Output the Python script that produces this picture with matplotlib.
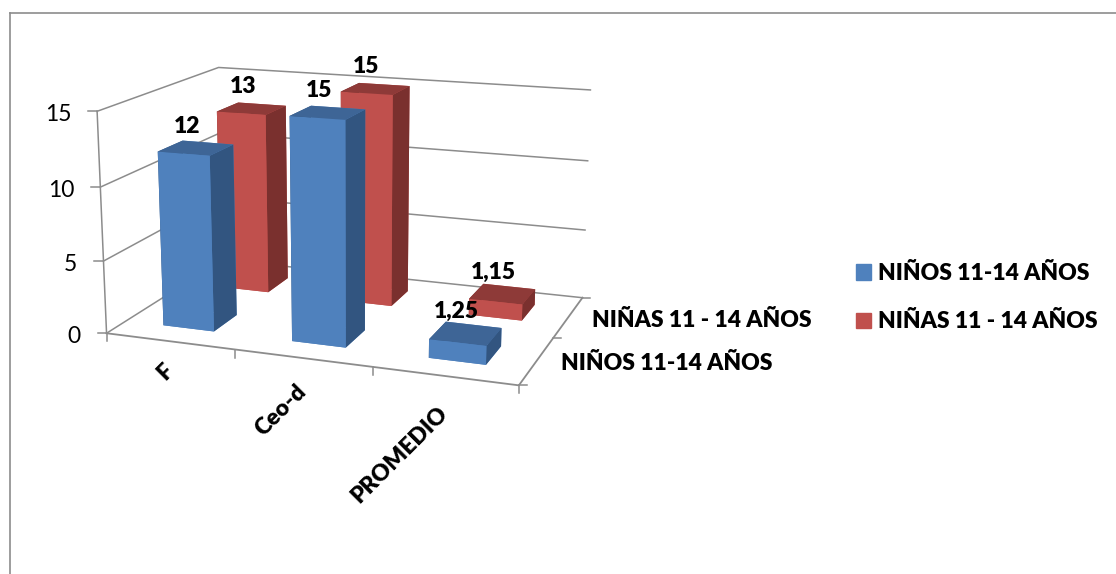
import numpy as np
import matplotlib
matplotlib.use("Agg")
import matplotlib.pyplot as plt
from matplotlib.lines import Line2D
from matplotlib.patches import Patch
from matplotlib.transforms import IdentityTransform
from mpl_toolkits.mplot3d import proj3d

categories = ["F", "Ceo-d", "PROMEDIO"]
series_names = ["NIÑOS 11-14 AÑOS", "NIÑAS 11 - 14 AÑOS"]
ninos = [12, 15, 1.25]
ninas = [13, 15, 1.15]
z_ticks = [0, 5, 10, 15]

W, H = 1116, 574
GREY = '#8c8c8c'
BLUE = ['#4F81BD', '#3E6596', '#4F81BD', '#4F81BD', '#325580', '#325580']
RED = ['#C0504D', '#8E3A38', '#C0504D', '#C0504D', '#7A302E', '#7A302E']
FS = 16.5
BOLD = 800

plt.rcParams['font.family'] = ['Lato', 'DejaVu Sans']
fig = plt.figure(figsize=(W/100, H/100), dpi=100)
ax = fig.add_axes([0, 0, 1, 1], projection='3d', computed_zorder=False)
ax.set_xlim(0, 3); ax.set_ylim(0, 2); ax.set_zlim(0, 15)
ax.set_axis_off()

# camera fitted to the reference's wall and floor corners
S, cx, cy = 528.240, 345.577, 216.606
ax.view_init(14.508, -69.926, 0.032)
ax.set_proj_type('persp', focal_length=0.543)
ax.set_box_aspect((1.875, 1.230, 1.0), zoom=1)
ax.set_position([(cx-S/2)/W, 1-(cy+S/2)/H, S/W, S/H])
ax.apply_aspect()


def to_px(x, y, z):
    u, v, _ = proj3d.proj_transform(np.array([x], float), np.array([y], float),
                                    np.array([z], float), ax.get_proj())
    d = ax.transData.transform([[u[0], v[0]]])[0]
    return d[0], H - d[1]


def seg(x0, y0, x1, y1, lw=1.1):
    fig.add_artist(Line2D([x0, x1], [H-y0, H-y1], color=GREY, lw=lw,
                          transform=IdentityTransform()))


def label(px, py, s, **kw):
    fig.text(px/W, 1-py/H, s, fontsize=kw.pop('size', FS), color='black', **kw)


# walls and floor
for z in z_ticks:
    ax.plot([0, 0, 3], [0, 2, 2], [z, z, z], color=GREY, lw=1.1, zorder=1)
ax.plot([0, 3, 3], [0, 0, 2], [0, 0, 0], color=GREY, lw=1.3, zorder=1)
ax.plot([0, 0], [0, 0], [0, z_ticks[-1]], color=GREY, lw=1.1, zorder=1)

# bars, back row first
order = 2
rows = [(ninos, BLUE), (ninas, RED)]
for row in (1, 0):
    vals, cols = rows[row]
    for i, v in enumerate(vals):
        ax.bar3d(i+.3, row+.3, 0, .4, .4, v, color=cols, shade=False,
                 zorder=order, linewidth=0)
        order += 1

# value labels
for row in (0, 1):
    for i, v in enumerate(rows[row][0]):
        px, py = to_px(i+.5, row+.5, v)
        label(px-9, py-22, f"{v:g}".replace('.', ','), ha='center', va='center',
              fontweight=BOLD)

# ticks and axis labels
for z in z_ticks:
    px, py = to_px(0, 0, z)
    seg(px-9, py, px, py)
    label(px-26, py+3, str(z), ha='right', va='center')
for i in range(len(categories)+1):
    px, py = to_px(i, 0, 0)
    seg(px, py, px, py+8)
for i, name in enumerate(categories):
    px, py = to_px(i+.5, 0, 0)
    label(px, py+26+i*4, name, rotation=45, rotation_mode='anchor', ha='right',
          va='center', fontweight=BOLD)
for j in range(len(series_names)+1):
    px, py = to_px(3, j, 0)
    seg(px, py, px+8, py)
for j, name in enumerate(series_names):
    px, py = to_px(3, j+.5, 0)
    label(px+24, py+3, name, ha='left', va='center', fontweight=BOLD)

# chart frame
seg(9.5, 13, W, 13, lw=1.2)
seg(9.5, 13, 9.5, H, lw=1.2)

fig.legend(handles=[Patch(color=BLUE[0], label=series_names[0]),
                    Patch(color=RED[0], label=series_names[1])],
           loc='upper left', bbox_to_anchor=(856/W, 1-263/H), frameon=False,
           prop={'weight': BOLD, 'size': FS}, handlelength=0.65, handleheight=0.65,
           handletextpad=0.3, labelspacing=1.2, borderpad=0, borderaxespad=0)

fig.savefig("out.png", dpi=100)
